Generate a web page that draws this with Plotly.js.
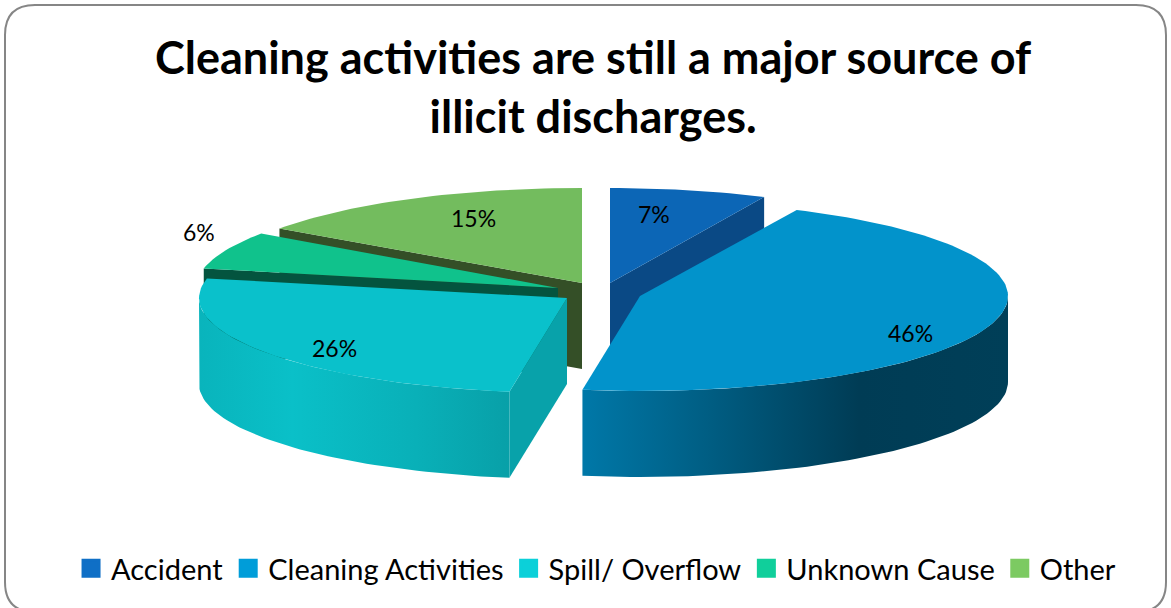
<!DOCTYPE html>
<html>
<head>
<meta charset="utf-8">
<script src="https://cdn.plot.ly/plotly-3.0.1.min.js"></script>
<style>html,body{margin:0;padding:0;background:#fff}#chart{width:1171px;height:608px}</style>
</head>
<body>
<div id="chart"></div>
<script>
// ---- data ----
const categories = ['Accident', 'Cleaning Activities', 'Spill/ Overflow', 'Unknown Cause', 'Other'];
const shares = [7, 45.5, 25.8, 6.4, 15.3];
const chartTitle = 'Cleaning activities are still a major source of<br>illicit discharges.';

// ---- styles ----
const topColors = ['#0C66B6', '#0293CB', '#0AC1CB', '#10C28C', '#73BC5E'];
const legendColors = ['#0F6FC6', '#009DD9', '#0BD0D9', '#10CF9B', '#7CCA62'];
const wallColors = ['#0A4985', '#006C96', '#08A2AA', '#04543F', '#344F27'];
const sideGradients = [
  null,
  [[0, '#0078A8'], [0.28, '#005F85'], [0.65, '#003C55'], [1, '#003F58']],
  [[0, '#09B4BC'], [0.3, '#0AC0C8'], [0.7, '#09B0B8'], [1, '#08A0A8']],
  null, null
];

// ---- pie geometry (exploded slices in a tilted view) ----
const apexX = [610, 640, 567, 558, 582];
const apexY = [283, 296, 298, 288, 283];
const radiusX = [362, 368, 368, 362, 369];
const radiusY = 95;
const depth = 86;
const labelX = [654, 910, 334, 199, 473];
const labelY = [214, 333, 348, 232, 218];
const STEP = 1.5;

const rad = d => d * Math.PI / 180;
const total = shares.reduce((a, b) => a + b, 0);
let running = 0;
const slices = shares.map((v, i) => {
  const start = running / total * 360;
  running += v;
  return {i, start, end: running / total * 360};
});

function rim(s, a, drop) {
  return [apexX[s.i] + radiusX[s.i] * Math.sin(rad(a)), apexY[s.i] - radiusY * Math.cos(rad(a)) + drop];
}
function arc(s, a0, a1, drop) {
  const pts = [];
  const n = Math.max(1, Math.ceil((a1 - a0) / STEP));
  for (let k = 0; k <= n; k++) pts.push(rim(s, a0 + (a1 - a0) * k / n, drop));
  return pts;
}
function poly(name, pts, color, gradient, group) {
  const t = {
    type: 'scatter', mode: 'lines', name,
    x: pts.map(p => p[0]).concat(pts[0][0]),
    y: pts.map(p => p[1]).concat(pts[0][1]),
    fill: 'toself', line: {width: 0, color}, showlegend: false,
    legendgroup: group, hoverinfo: 'skip'
  };
  if (gradient) t.fillgradient = {type: 'horizontal', colorscale: gradient};
  else t.fillcolor = color;
  return t;
}
function edgeWall(s, a) {
  const ax = apexX[s.i], ay = apexY[s.i], r = rim(s, a, 0);
  return poly(categories[s.i] + ' wall', [[ax, ay], r, [r[0], r[1] + depth], [ax, ay + depth]],
    wallColors[s.i], null, categories[s.i]);
}
function sliceTraces(s) {
  const out = [];
  const name = categories[s.i];
  if (s.end <= 180 && s.end > 0 && s.start < 90) out.push(edgeWall(s, s.end));
  if (s.start >= 180) out.push(edgeWall(s, s.start));
  const a0 = Math.max(s.start, 90), a1 = Math.min(s.end, 270);
  if (a1 > a0) {
    const pts = arc(s, a0, a1, 0).concat(arc(s, a0, a1, depth).reverse());
    out.push(poly(name + ' side', pts, wallColors[s.i], sideGradients[s.i], name));
  }
  out.push(poly(name + ' top', [[apexX[s.i], apexY[s.i]]].concat(arc(s, s.start, s.end, 0)),
    topColors[s.i], null, name));
  return out;
}

const drawOrder = [4, 0, 3, 2, 1];
const traces = [];
drawOrder.forEach(i => sliceTraces(slices[i]).forEach(t => traces.push(t)));

categories.forEach((c, i) => traces.push({
  type: 'scatter', mode: 'markers', name: c, x: [null], y: [null],
  legendgroup: c, showlegend: true,
  marker: {symbol: 'square', size: 16, color: legendColors[i], line: {width: 3, color: legendColors[i]}}
}));

const annotations = shares.map((v, i) => ({
  x: labelX[i], y: labelY[i], xref: 'x', yref: 'y',
  text: Math.round(v / total * 100) + '%', showarrow: false,
  font: {family: 'Lato, sans-serif', size: 23, color: '#000'}
}));

const layout = {
  width: 1171, height: 608,
  margin: {l: 0, r: 0, t: 0, b: 0},
  paper_bgcolor: '#fff', plot_bgcolor: '#fff',
  title: {
    text: chartTitle, x: 0.5065, xanchor: 'center', y: 0.8775, yanchor: 'top', yref: 'container',
    font: {family: 'Lato, sans-serif', size: 45, color: '#000', weight: 700}
  },
  xaxis: {range: [0, 1171], visible: false, fixedrange: true},
  yaxis: {range: [608, 0], visible: false, fixedrange: true},
  showlegend: true,
  legend: {
    orientation: 'h', x: 0.509, xanchor: 'center', y: 0.065, yanchor: 'middle',
    font: {family: 'Lato, sans-serif', size: 29, color: '#000'},
    itemsizing: 'trace', traceorder: 'normal', bgcolor: 'rgba(0,0,0,0)', itemclick: false, itemdoubleclick: false
  },
  annotations,
  shapes: [{
    type: 'path', xref: 'x', yref: 'y', layer: 'below',
    path: 'M 5 35 Q 5 5 35 5 L 1136 5 Q 1166 5 1166 35 L 1166 582 Q 1166 612 1136 612 L 35 612 Q 5 612 5 582 Z',
    line: {color: '#868686', width: 2}, fillcolor: 'rgba(0,0,0,0)'
  }]
};

Plotly.newPlot('chart', traces, layout, {displayModeBar: false});
</script>
</body>
</html>
